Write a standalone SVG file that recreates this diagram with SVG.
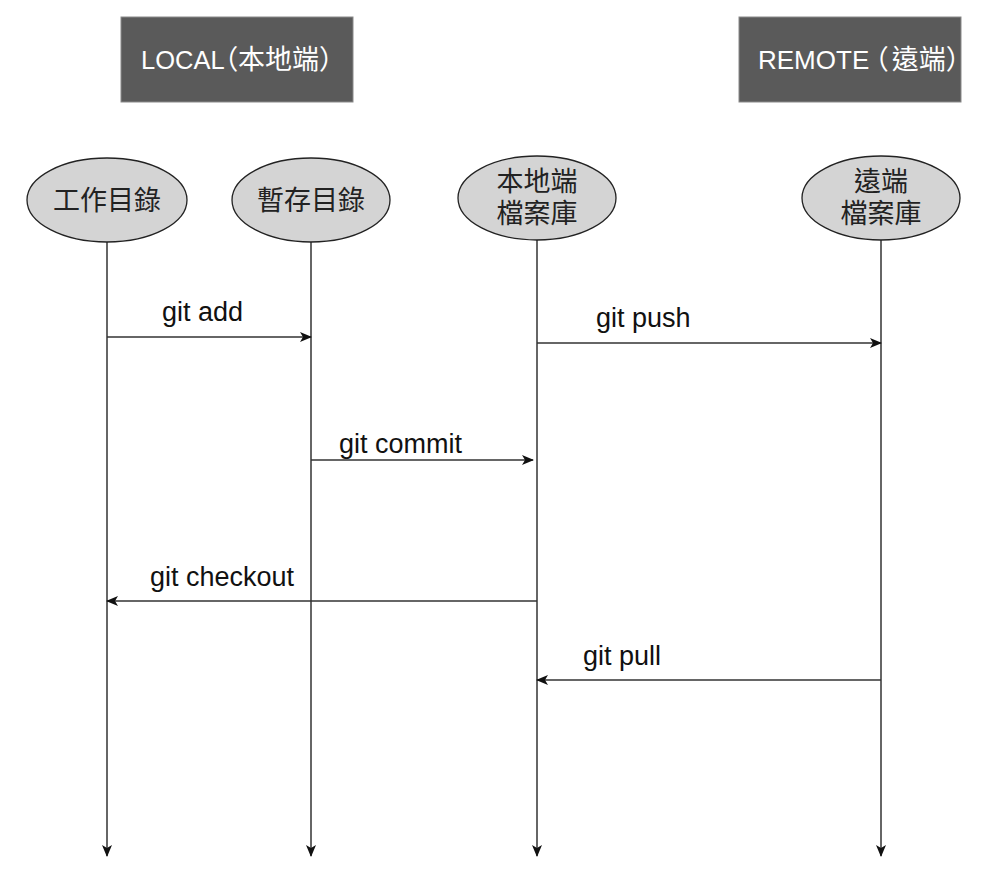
<svg xmlns="http://www.w3.org/2000/svg" width="1000" height="874" viewBox="0 0 1000 874">
<style>
.hdr{fill:#5a5a5a;stroke:#8a8a8a;stroke-width:1}
.hdrt{font-family:"Liberation Sans","Noto Sans CJK TC",sans-serif;font-size:25.5px;fill:#ffffff}
.hdrc{font-family:"Noto Sans CJK TC","Liberation Sans",sans-serif;font-size:27px;font-feature-settings:"halt" 1}
.ell{fill:#d4d4d4;stroke:#222;stroke-width:1.3}
.et{font-family:"Liberation Sans","Noto Sans CJK TC",sans-serif;font-size:27px;fill:#222;text-anchor:middle}
.ln{stroke:#333;stroke-width:1.5;fill:none}
.lbl{font-family:"Liberation Sans",Arial,sans-serif;font-size:27px;fill:#111}
</style>
<defs>
<marker id="ah" viewBox="0 0 12 10" refX="11" refY="5" markerWidth="12" markerHeight="10" markerUnits="userSpaceOnUse" orient="auto">
<path d="M0,0 L12,5 L0,10 L3,5 Z" fill="#111"/>
</marker>
</defs>
<g id="hdr-local">
<rect class="hdr" x="121" y="17" width="232" height="85"/>
<text class="hdrt" x="141" y="69">LOCAL<tspan class="hdrc">（本地端）</tspan></text>
</g>
<g id="hdr-remote">
<rect class="hdr" x="739" y="17" width="222" height="85"/>
<text class="hdrt" x="758" y="69" style="font-size:26px">REMOTE<tspan class="hdrc" dx="6">（</tspan><tspan class="hdrc" dx="3">遠端）</tspan></text>
</g>
<g id="connectors">
<line class="ln" x1="107" y1="242" x2="107" y2="856" marker-end="url(#ah)"/>
<line class="ln" x1="311" y1="242" x2="311" y2="856" marker-end="url(#ah)"/>
<line class="ln" x1="537" y1="240" x2="537" y2="856" marker-end="url(#ah)"/>
<line class="ln" x1="881" y1="240" x2="881" y2="856" marker-end="url(#ah)"/>
<line class="ln" x1="107" y1="337" x2="311" y2="337" marker-end="url(#ah)"/>
<line class="ln" x1="537" y1="343" x2="881" y2="343" marker-end="url(#ah)"/>
<line class="ln" x1="311" y1="460" x2="533" y2="460" marker-end="url(#ah)"/>
<line class="ln" x1="537" y1="601" x2="107" y2="601" marker-end="url(#ah)"/>
<line class="ln" x1="881" y1="680" x2="537" y2="680" marker-end="url(#ah)"/>
<text class="lbl" x="162" y="321">git add</text>
<text class="lbl" x="596" y="327">git push</text>
<text class="lbl" x="339" y="453">git commit</text>
<text class="lbl" x="150" y="586">git checkout</text>
<text class="lbl" x="583" y="665">git pull</text>
</g>
<g id="node-workdir">
<ellipse class="ell" cx="107" cy="200" rx="80" ry="42"/>
<text class="et" x="107" y="210">工作目錄</text>
</g>
<g id="node-stage">
<ellipse class="ell" cx="311" cy="200" rx="79" ry="42"/>
<text class="et" x="311" y="210">暫存目錄</text>
</g>
<g id="node-localrepo">
<ellipse class="ell" cx="537" cy="198" rx="79" ry="42"/>
<text class="et" x="537" y="191">本地端</text>
<text class="et" x="537" y="223">檔案庫</text>
</g>
<g id="node-remoterepo">
<ellipse class="ell" cx="881" cy="198" rx="79" ry="42"/>
<text class="et" x="881" y="191">遠端</text>
<text class="et" x="881" y="223">檔案庫</text>
</g>
</svg>
